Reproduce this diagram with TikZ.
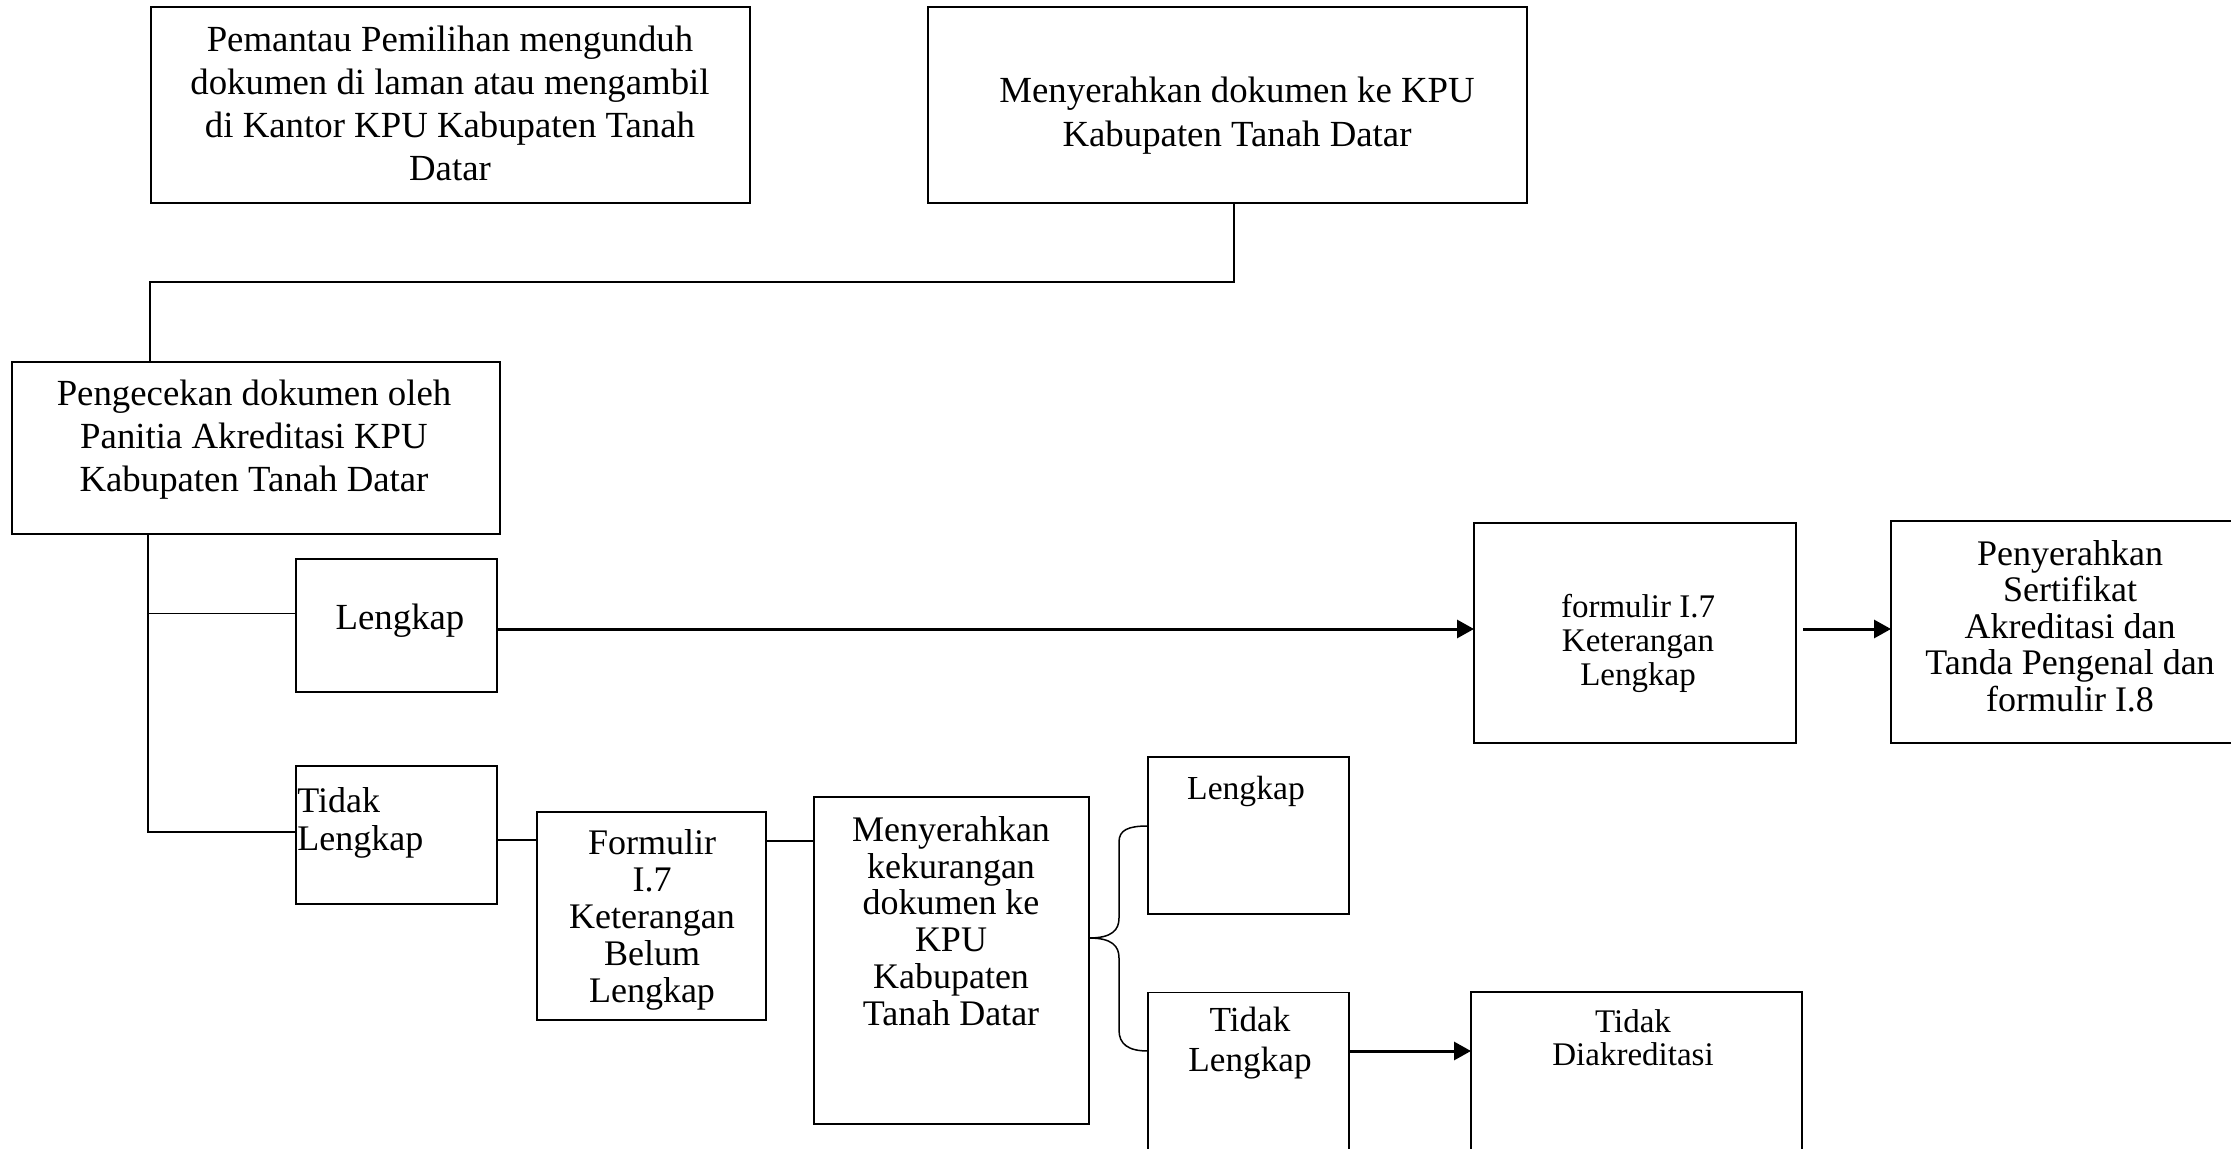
\documentclass[tikz,border=0pt]{standalone}
\usepackage{fontspec}
\setmainfont{Liberation Serif}
\usetikzlibrary{arrows.meta,calc}
\begin{document}
\begin{tikzpicture}[x=0.5pt,y=-0.5pt,
  box/.style={draw, line width=0.7pt, inner sep=0pt, outer sep=0pt},
  txt/.style={inner sep=0pt, align=center},
  conn/.style={line width=0.75pt},
  arr/.style={line width=1.5pt, -{Triangle[length=8.5pt,width=9pt]}}]
\useasboundingbox (0,0) rectangle (2231,1149);
% boxes
\node[box, minimum width=299.5pt, minimum height=98pt] (B1) at (450.5,105) {};
\node[box, minimum width=299.5pt, minimum height=98pt] (B2) at (1227.5,105) {};
\node[box, minimum width=244pt, minimum height=86pt] (B3) at (256,448) {};
\node[box, minimum width=100.5pt, minimum height=66.5pt] (L1) at (396.5,625.5) {};
\node[box, minimum width=100.5pt, minimum height=69pt] (TL1) at (396.5,835) {};
\node[box, minimum width=114.5pt, minimum height=104pt] (F) at (651.5,916) {};
\node[box, minimum width=137.5pt, minimum height=163.5pt] (M) at (951.5,960.5) {};
\node[box, minimum width=100.5pt, minimum height=78.5pt] (L2) at (1248.5,835.5) {};
\node[box, minimum width=100.5pt, minimum height=86.25pt] (TL2) at (1248.5,1078.75) {};
\node[box, minimum width=165.5pt, minimum height=86.5pt] (TD) at (1636.5,1078.5) {};
\node[box, minimum width=161pt, minimum height=110pt] (FL) at (1635,633) {};
\node[box, minimum width=177pt, minimum height=111pt] (PS) at (2068,632) {};
% texts
\node[txt, font=\fontsize{18.4}{21.5}\selectfont] (t1) at (450,103) {Pemantau Pemilihan mengunduh\\dokumen di laman atau mengambil\\di Kantor KPU Kabupaten Tanah\\Datar};
\node[txt, font=\fontsize{18.4}{22}\selectfont] (t2) at (1237,116) {Menyerahkan dokumen ke KPU\\Kabupaten Tanah Datar};
\node[txt, font=\fontsize{18.4}{21.5}\selectfont] (t3) at (254,440) {Pengecekan dokumen oleh\\Panitia Akreditasi KPU\\Kabupaten Tanah Datar};
\node[txt, font=\fontsize{18.4}{21}\selectfont] (tL1) at (400,621) {Lengkap};
\node[txt, align=left, anchor=west, font=\fontsize{18}{19}\selectfont] (tTL1) at (297,823) {Tidak\\Lengkap};
\node[txt, font=\fontsize{18}{18.5}\selectfont] (tF) at (652,920) {Formulir\\I.7\\Keterangan\\Belum\\Lengkap};
\node[txt, font=\fontsize{18}{18.4}\selectfont] (tM) at (951,921) {Menyerahkan\\kekurangan\\dokumen ke\\KPU\\Kabupaten\\Tanah Datar};
\node[txt, font=\fontsize{16.8}{18}\selectfont] (tL2) at (1246,791) {Lengkap};
\node[txt, font=\fontsize{17.6}{20}\selectfont] (tTL2) at (1250,1043) {Tidak\\Lengkap};
\node[txt, font=\fontsize{16.5}{16.5}\selectfont] (tTD) at (1633,1038) {Tidak\\Diakreditasi};
\node[txt, font=\fontsize{16.5}{17}\selectfont] (tFL) at (1638,643) {formulir I.7\\Keterangan\\Lengkap};
\node[txt, font=\fontsize{18}{18.25}\selectfont] (tPS) at (2070,626) {Penyerahkan\\Sertifikat\\Akreditasi dan\\Tanda Pengenal dan\\formulir I.8};
% connectors
\coordinate (hx) at (150,282);
\draw[conn] (B2.south -| 1234,0) |- (hx) -- (B3.north -| hx);
\coordinate (vtop) at (148,613.5);
\coordinate (vb) at (148,832);
\draw[conn] (B3.south -| vb) -- (vb) -- (TL1.west |- vb);
\draw[conn] (vtop) -- (L1.west |- vtop);
\draw[conn] (TL1.east |- 0,840) -- (F.west |- 0,840);
\draw[conn] (F.east |- 0,841) -- (M.west |- 0,841);
\draw[arr] (L1.east |- 0,629) -- (FL.west |- 0,629);
\draw[arr] ($(FL.east |- 0,629)+(7,0)$) -- (PS.west |- 0,629);
\draw[arr] (TL2.east |- 0,1051) -- (TD.west |- 0,1051);
% brace
\coordinate (bt) at (M.east |- 0,938);
\draw[conn] (bt) .. controls (1112,938) and (1119,930) .. (1119,918) -- (1119,842) .. controls (1119,830) and (1128,826) .. (L2.west |- 0,826);
\draw[conn] (bt) .. controls (1112,938) and (1119,946) .. (1119,958) -- (1119,1030) .. controls (1119,1044) and (1128,1051) .. (TL2.west |- 0,1051);
\end{tikzpicture}
\end{document}
